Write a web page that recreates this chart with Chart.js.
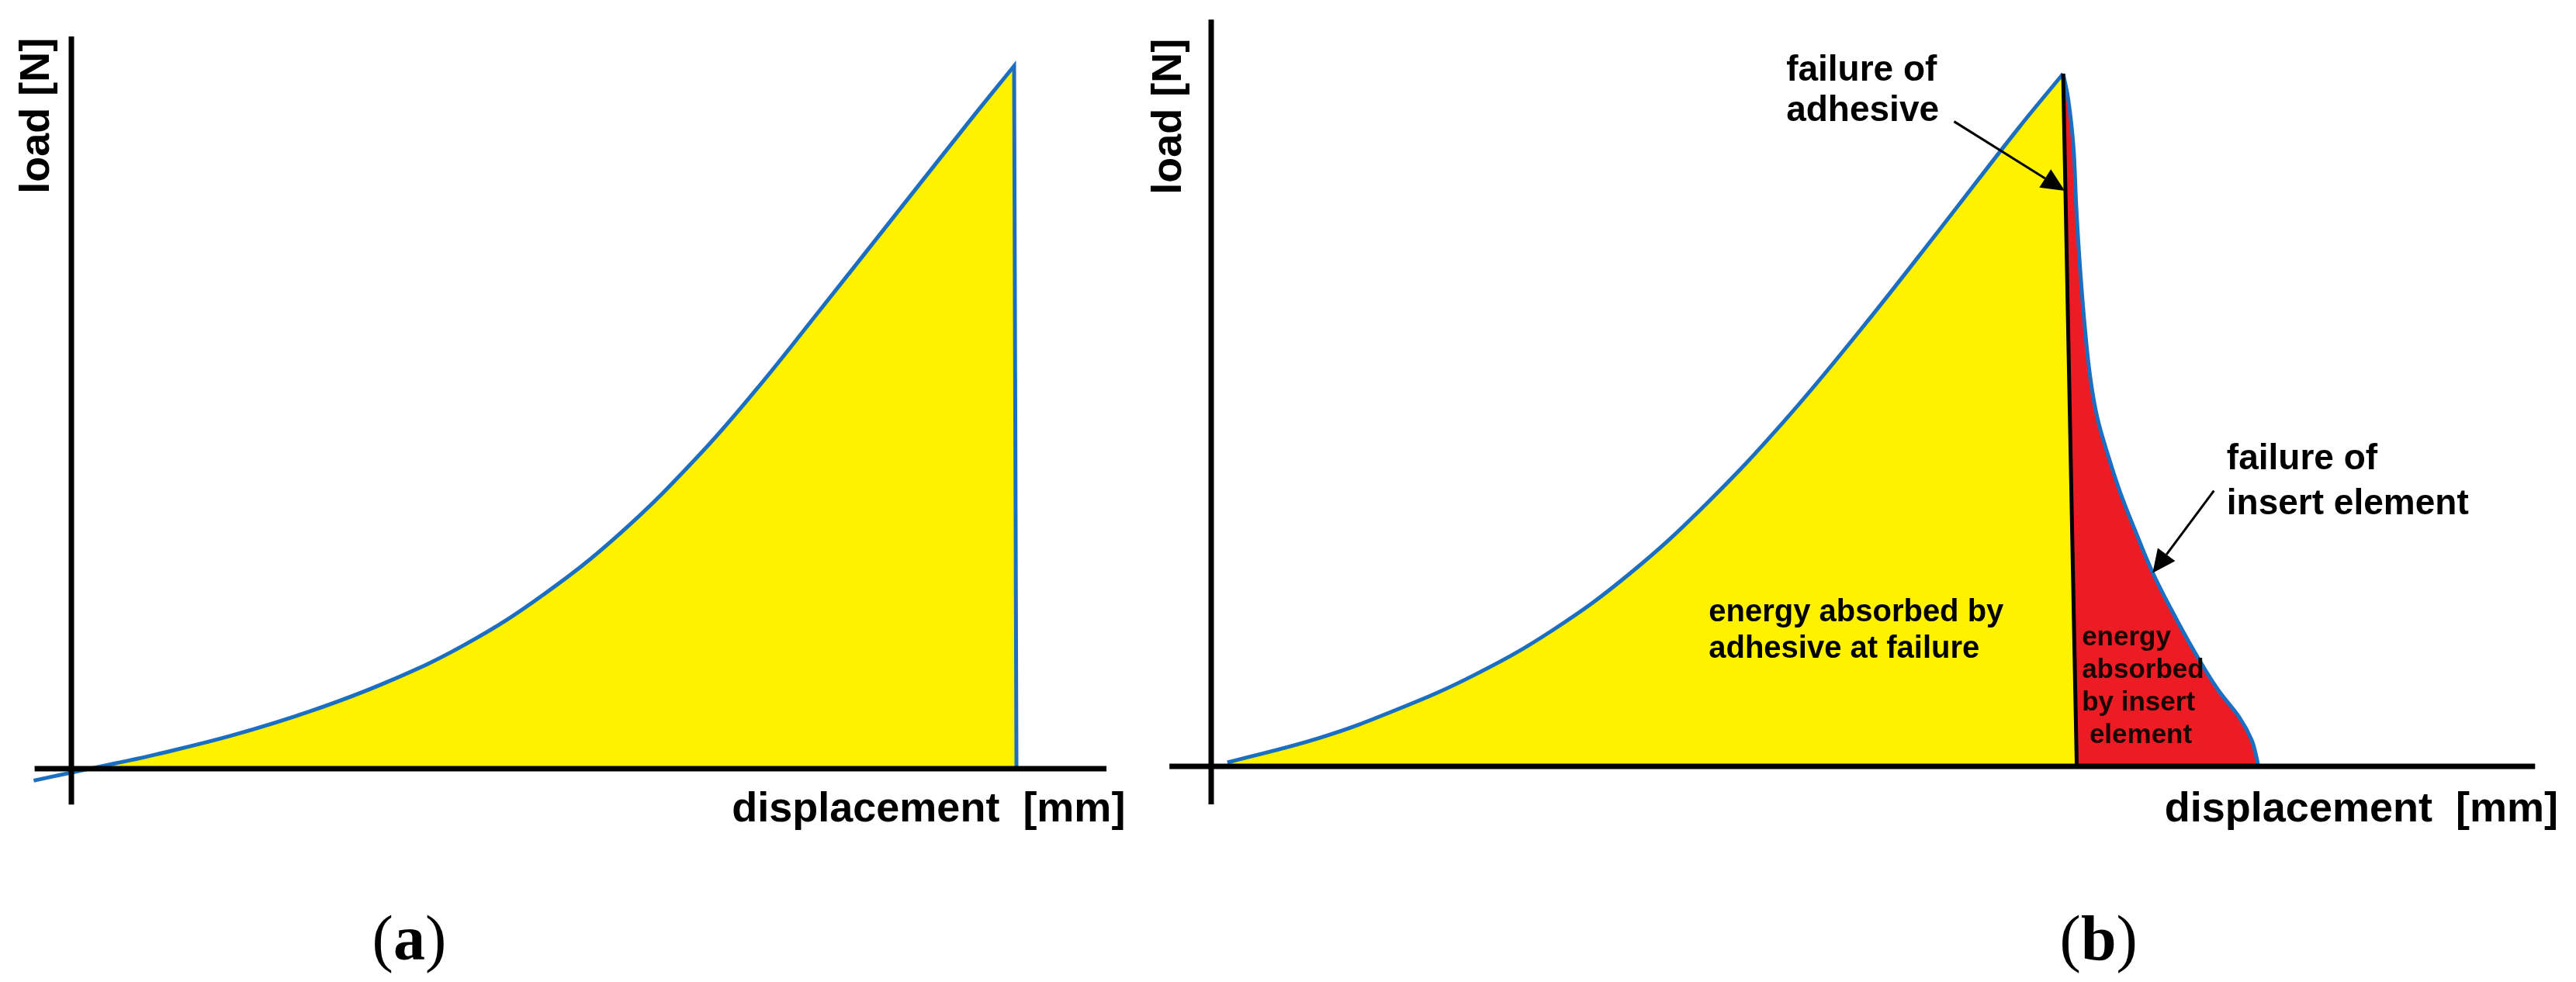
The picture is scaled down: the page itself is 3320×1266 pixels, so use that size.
<!DOCTYPE html>
<html>
<head>
<meta charset="utf-8">
<script src="https://cdn.jsdelivr.net/npm/chart.js"></script>
<style>
  body { margin: 0; background: #fff; }
  #wrapA { position: absolute; left: 0; top: 0; width: 1470px; height: 1266px; }
  #wrapB { position: absolute; left: 1470px; top: 0; width: 1850px; height: 1266px; }
</style>
</head>
<body>
<div id="wrapA"><canvas id="chartA" width="1470" height="1266"></canvas></div>
<div id="wrapB"><canvas id="chartB" width="1850" height="1266"></canvas></div>
<script>
// values in arbitrary units (peak = 100)
// (a) adhesive joint only
var dispA = [-4.0, 0, 4.8, 8.9, 17.1, 25.4, 33.6, 41.8, 50.0, 58.3, 66.5, 72.8, 78.9, 87.1, 95.3, 100, 100, 100.25]
var loadA = [-1.7, -0.55, 0.8, 2.0, 4.75, 8.2, 12.4, 17.7, 24.7, 33.6, 44.5, 54.2, 64.4, 78.3, 92.2, 100, 100, 0]

// (b) hybrid joint: loading up to adhesive failure, then drop
var dispAdhesive = [1.9, 12.7, 21.8, 30.9, 40.0, 49.1, 58.2, 67.3, 76.4, 85.5, 94.6, 100, 100, 101.6]
var loadAdhesive = [0.56, 4.1, 8.2, 13.2, 19.6, 27.8, 38.0, 49.9, 63.3, 77.5, 91.9, 100, 100, 0]

// (b) insert element carrying the load after the adhesive failed
var dispInsert = [100, 100.6, 101.2, 101.55, 102.0, 102.6, 103.2, 104.0, 105.3, 106.8, 108.6, 110.5, 112.8, 115.3, 118.1, 120.7, 122.1, 122.7, 122.9]
var loadInsert = [100, 96.3, 89.6, 80.6, 71.7, 62.7, 56.0, 50.4, 44.8, 39.2, 33.6, 28.0, 22.4, 16.8, 11.2, 7.05, 3.9, 1.3, 0]

var BLUE = '#1b6fc3'
var YELLOW = '#fff200'
var RED = '#ed1c24'
var SANS = '"Liberation Sans", Arial, sans-serif'
var SERIF = '"Liberation Serif", "Times New Roman", serif'

function pts(xs, ys) {
    return xs.map(function (x, i) { return { x: x, y: ys[i] } })
}

// padding so the axis origin lands where it is in the figure
function padFor(g) {
    return {
        left: g.ox + g.xmin * g.sx,
        right: g.w - (g.ox + g.xmax * g.sx),
        top: g.oy - g.ymax * g.sy,
        bottom: g.h - (g.oy - g.ymin * g.sy)
    }
}

function arrow(ctx, x0, y0, x1, y1) {
    var ang = Math.atan2(y1 - y0, x1 - x0), L = 30, W = 14
    var bx = x1 - L * Math.cos(ang), by = y1 - L * Math.sin(ang)
    ctx.lineWidth = 3
    ctx.beginPath(); ctx.moveTo(x0, y0); ctx.lineTo(bx, by); ctx.stroke()
    ctx.beginPath(); ctx.moveTo(x1, y1)
    ctx.lineTo(bx + W * Math.sin(ang), by - W * Math.cos(ang))
    ctx.lineTo(bx - W * Math.sin(ang), by + W * Math.cos(ang))
    ctx.closePath(); ctx.fill()
}

var sketchPlugin = {
    id: 'sketch',
    afterDatasetsDraw: function (chart, args, o) {
        var ctx = chart.ctx, x = chart.scales.x, y = chart.scales.y
        ctx.save()
        ctx.strokeStyle = '#000'
        ctx.fillStyle = '#000'
        ctx.lineWidth = 7
        ctx.beginPath()
        ctx.moveTo(x.getPixelForValue(o.axisX[0]), y.getPixelForValue(0))
        ctx.lineTo(x.getPixelForValue(o.axisX[1]), y.getPixelForValue(0))
        ctx.moveTo(x.getPixelForValue(0), y.getPixelForValue(o.axisY[0]))
        ctx.lineTo(x.getPixelForValue(0), y.getPixelForValue(o.axisY[1]))
        ctx.stroke()
        ;(o.arrows || []).forEach(function (a) {
            arrow(ctx, x.getPixelForValue(a[0]), y.getPixelForValue(a[1]), x.getPixelForValue(a[2]), y.getPixelForValue(a[3]))
        })
        ctx.restore()
    },
    afterDraw: function (chart, args, o) {
        var ctx = chart.ctx, x = chart.scales.x, y = chart.scales.y
        ctx.save()
        ctx.textBaseline = 'alphabetic'
        ;(o.texts || []).forEach(function (t) {
            ctx.font = 'bold ' + t.size + 'px ' + SANS
            ctx.textAlign = t.align || 'left'
            ctx.fillStyle = t.color || '#000'
            ctx.fillText(t.text, x.getPixelForValue(t.x), y.getPixelForValue(t.y))
        })
        // rotated y title
        var yl = o.yTitle
        ctx.save()
        ctx.translate(x.getPixelForValue(yl.x), y.getPixelForValue(yl.y))
        ctx.rotate(-Math.PI / 2)
        ctx.font = 'bold 54px ' + SANS
        ctx.textAlign = 'center'
        ctx.fillStyle = '#000'
        ctx.fillText('load [N]', 0, 0)
        ctx.restore()
        // panel letter, "(a)" with bold letter
        var p = o.panel
        var px = x.getPixelForValue(p.x), py = y.getPixelForValue(p.y)
        ctx.textAlign = 'left'
        ctx.fillStyle = '#000'
        ctx.font = '82px ' + SERIF
        ctx.fillText('(', px, py)
        px += ctx.measureText('(').width
        ctx.font = 'bold 82px ' + SERIF
        ctx.fillText(p.letter, px, py)
        px += ctx.measureText(p.letter).width
        ctx.font = '82px ' + SERIF
        ctx.fillText(')', px, py)
        ctx.restore()
    }
}

function baseOptions(g, sketch) {
    return {
        responsive: false,
        animation: false,
        events: [],
        layout: { padding: padFor(g) },
        elements: { point: { radius: 0 } },
        scales: {
            x: { type: 'linear', display: false, min: g.xmin, max: g.xmax },
            y: { type: 'linear', display: false, min: g.ymin, max: g.ymax }
        },
        plugins: { legend: { display: false }, tooltip: { enabled: false }, sketch: sketch }
    }
}

// ---------- (a) ----------
var geoA = { w: 1470, h: 1266, ox: 92, oy: 991, sx: 12.15, sy: 9.06, xmin: -5, xmax: 111, ymin: -6, ymax: 106 }
new Chart(document.getElementById('chartA').getContext('2d'), {
    type: 'line',
    data: {
        datasets: [{
            data: pts(dispA, loadA),
            borderColor: BLUE,
            borderWidth: 5,
            tension: 0.4,
            fill: { target: 'origin', above: YELLOW, below: 'rgba(0,0,0,0)' },
            clip: false
        }]
    },
    options: baseOptions(geoA, {
        axisX: [-3.9, 109.8],
        axisY: [-5.1, 104.2],
        yTitle: { x: -2.4, y: 92.9 },
        panel: { x: 31.9, y: -27.2, letter: 'a' },
        texts: [
            { text: 'displacement  [mm]', x: 111.8, y: -7.5, size: 54, align: 'right' }
        ]
    }),
    plugins: [sketchPlugin]
})

// ---------- (b) ----------
var geoB = { w: 1850, h: 1266, ox: 91, oy: 988, sx: 10.98, sy: 8.93, xmin: -5, xmax: 160, ymin: -6, ymax: 109 }
var peakIdx = dispAdhesive.length - 2
new Chart(document.getElementById('chartB').getContext('2d'), {
    type: 'line',
    data: {
        datasets: [{
            // yellow: loading curve, closed by the black drop line
            data: pts(dispAdhesive, loadAdhesive),
            borderColor: BLUE,
            borderWidth: 5,
            tension: 0.4,
            fill: 'origin',
            backgroundColor: YELLOW,
            segment: {
                borderColor: function (c) { return c.p0DataIndex >= peakIdx ? '#000' : undefined },
                borderWidth: function (c) { return c.p0DataIndex >= peakIdx ? 5 : undefined }
            },
            order: 1,
            clip: false
        }, {
            // red: descending branch
            data: pts(dispInsert, loadInsert),
            borderColor: BLUE,
            borderWidth: 5,
            tension: 0.4,
            fill: 'origin',
            backgroundColor: RED,
            order: 2,
            clip: false
        }]
    },
    options: baseOptions(geoB, {
        axisX: [-4.9, 155.4],
        axisY: [-5.5, 107.8],
        yTitle: { x: -3.55, y: 93.8 },
        panel: { x: 99.6, y: -27.9, letter: 'b' },
        arrows: [
            [87.2, 93.1, 100.2, 83.1],
            [117.7, 39.8, 110.5, 27.9]
        ],
        texts: [
            { text: 'displacement  [mm]', x: 158.1, y: -7.95, size: 54, align: 'right' },
            { text: 'failure of', x: 67.5, y: 99.0, size: 46 },
            { text: 'adhesive', x: 67.5, y: 93.2, size: 46 },
            { text: 'energy absorbed by', x: 58.4, y: 20.9, size: 40 },
            { text: 'adhesive at failure', x: 58.4, y: 15.7, size: 40 },
            { text: 'energy', x: 102.2, y: 17.5, size: 35, color: '#1a0505' },
            { text: 'absorbed', x: 102.2, y: 12.8, size: 35, color: '#1a0505' },
            { text: 'by insert', x: 102.2, y: 8.1, size: 35, color: '#1a0505' },
            { text: ' element', x: 102.2, y: 3.4, size: 35, color: '#1a0505' },
            { text: 'failure of', x: 119.2, y: 42.9, size: 46 },
            { text: 'insert element', x: 119.2, y: 36.4, size: 46 }
        ]
    }),
    plugins: [sketchPlugin]
})
</script>
</body>
</html>
